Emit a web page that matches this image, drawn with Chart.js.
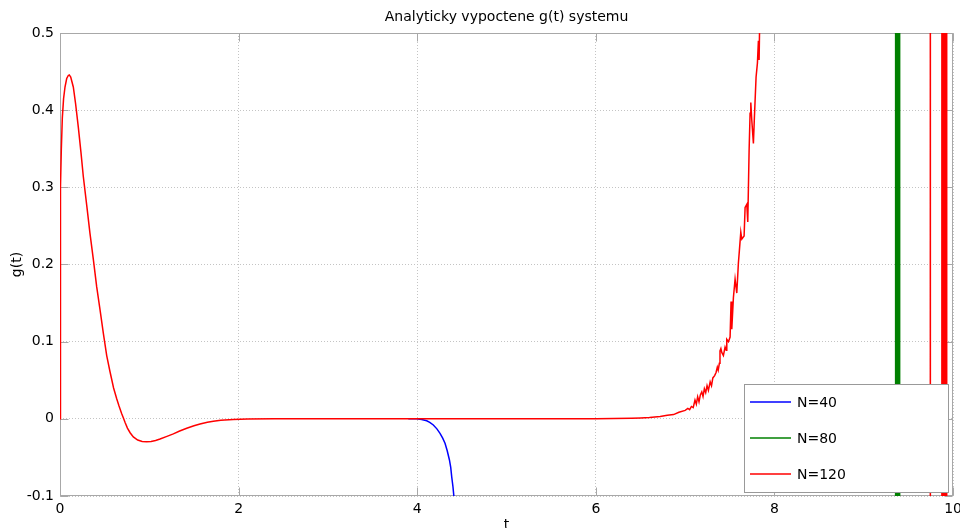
<!DOCTYPE html>
<html lang="cs">
<head>
<meta charset="UTF-8">
<title>Analyticky vypoctene g(t) systemu</title>
<script src="https://cdn.jsdelivr.net/npm/chart.js"></script>
<style>
  html, body { margin: 0; padding: 0; overflow: hidden; background: #fff; }
  #wrap { position: absolute; left: 0; top: 0; width: 967px; height: 540px; }
</style>
</head>
<body>
<div id="wrap"><canvas id="gChart"></canvas></div>
<script>
// spolecny zacatek odezvy (vsechna N davaji totez do t ~ 4)
const tCommon = [0, 0.002, 0.005, 0.009, 0.015, 0.026, 0.04, 0.056, 0.075, 0.093, 0.104, 0.12,
  0.149, 0.175, 0.205, 0.235, 0.261, 0.3, 0.336, 0.375, 0.411, 0.45, 0.485, 0.523, 0.56, 0.6,
  0.635, 0.66, 0.69, 0.71, 0.73, 0.755, 0.785, 0.821, 0.87, 0.92, 0.97, 1.02, 1.07, 1.12, 1.19,
  1.269, 1.34, 1.419, 1.5, 1.568, 1.65, 1.717, 1.8, 1.94, 2.1, 2.4, 3, 3.5, 4];
const gCommon = [0, 0.12, 0.23, 0.30, 0.35, 0.39, 0.415, 0.43, 0.441, 0.445, 0.4457, 0.443,
  0.43, 0.408, 0.378, 0.345, 0.314, 0.276, 0.24, 0.205, 0.171, 0.14, 0.111, 0.082, 0.061, 0.04,
  0.026, 0.017, 0.007, 0.001, -0.005, -0.012, -0.018, -0.0235, -0.0275, -0.0293, -0.0298, -0.0293, -0.028, -0.0262, -0.023,
  -0.0195, -0.0158, -0.0122, -0.009, -0.0066, -0.0045, -0.003, -0.0018, -0.0008, -0.0003, 0, 0, 0, 0];

// N=40 - pod N=120 az do t ~ 4, pak diverguje dolu
const tBlue = [3.9, 3.994, 4.05, 4.106, 4.14, 4.18, 4.22, 4.255, 4.285, 4.311, 4.335, 4.36, 4.375, 4.386, 4.4, 4.41, 4.43];
const gBlue = [0, 0, -0.0008, -0.0025, -0.0045, -0.008, -0.013, -0.0188, -0.025, -0.0317, -0.041, -0.053, -0.063, -0.075, -0.088, -0.1, -0.125];

// N=80 - numericky rozpad kolem t ~ 9.37
const tGreen = [9.3, 9.3555, 9.3565, 9.3635, 9.3645, 9.3715, 9.3725, 9.3795, 9.3805, 9.3875, 9.3885,
  9.3955, 9.3965, 9.4035, 9.4045, 9.45];
const gGreen = [-30, -30, 30, 30, -30, -30, 30, 30, -30, -30, 30, 30, -30, -30, 30, 30];

// N=120 - sum od t ~ 7, pak rozpad
const tRed = [5, 6, 6.2, 6.4, 6.5, 6.6, 6.72, 6.8, 6.87, 6.93, 7.0, 7.03, 7.05, 7.07, 7.09, 7.11,
  7.125, 7.14, 7.155, 7.17, 7.186, 7.2, 7.215, 7.23, 7.245, 7.26, 7.28, 7.295, 7.31, 7.33, 7.346,
  7.36, 7.37, 7.383, 7.39, 7.4, 7.41, 7.428, 7.447, 7.46, 7.466, 7.485, 7.503, 7.514, 7.522, 7.54,
  7.559, 7.578, 7.596, 7.607, 7.623, 7.634, 7.66, 7.671, 7.69, 7.701, 7.716, 7.727, 7.735, 7.746,
  7.764, 7.775, 7.794, 7.809, 7.82, 7.828, 7.84, 7.9, 8.5, 9.2, 9.7445, 9.7455,
  9.8735, 9.8745, 9.8815, 9.8825, 9.8895, 9.8905, 9.8975, 9.8985, 9.9055, 9.9065,
  9.9195, 9.9205, 9.9275, 9.9285, 10];
const gRed = [0, 0, 0.0003, 0.0008, 0.0012, 0.0018, 0.003, 0.0045, 0.0055, 0.0085, 0.011, 0.0135,
  0.012, 0.016, 0.0145, 0.0244, 0.019, 0.0287, 0.022, 0.031, 0.035, 0.029, 0.039, 0.034, 0.043,
  0.037, 0.048, 0.043, 0.053, 0.056, 0.06, 0.067, 0.063, 0.072, 0.088, 0.091, 0.086, 0.082, 0.093,
  0.089, 0.103, 0.1, 0.106, 0.152, 0.116, 0.157, 0.181, 0.163, 0.202, 0.218, 0.242, 0.233, 0.237,
  0.274, 0.278, 0.255, 0.348, 0.396, 0.41, 0.387, 0.357, 0.39, 0.443, 0.461, 0.49, 0.465, 0.56,
  0.9, 4, 12, 30, -30,
  -30, 30, 30, -30, -30, 30, 30, -30, -30, 30,
  30, -30, -30, 30, 30];

const xTicks = [0, 2, 4, 6, 8, 10];
const yTicks = [-0.1, 0, 0.1, 0.2, 0.3, 0.4, 0.5];

const seriesNames = ['N=40', 'N=80', 'N=120'];
const seriesColors = ['#0000ff', '#008000', '#ff0000'];

function toPoints(ts, gs) {
  return ts.map((t, i) => ({ x: t, y: gs[i] }));
}

const blueData = toPoints(tBlue, gBlue);
const greenData = toPoints(tGreen, gGreen);
const redData = toPoints(tCommon.concat(tRed), gCommon.concat(gRed));

Chart.defaults.font.family = '"DejaVu Sans", sans-serif';
Chart.defaults.font.size = 14;
Chart.defaults.color = '#000';

// ramecek grafu a kratke znacky dovnitr
const framePlugin = {
  id: 'frame',
  beforeDatasetsDraw(chart) {
    const { ctx, chartArea: a, scales } = chart;
    const L = Math.round(a.left) + 0.5, R = Math.round(a.right) - 0.5;
    const T = Math.round(a.top) + 0.5, B = Math.round(a.bottom) - 0.5;
    ctx.save();
    ctx.strokeStyle = '#a8a8a8';
    ctx.lineWidth = 1;
    ctx.beginPath();
    xTicks.forEach(v => {
      const px = Math.round(scales.x.getPixelForValue(v)) + 0.5;
      ctx.moveTo(px, B); ctx.lineTo(px, B - 8);
      ctx.moveTo(px, T); ctx.lineTo(px, T + 8);
    });
    yTicks.forEach(v => {
      const py = Math.round(scales.y.getPixelForValue(v)) + 0.5;
      ctx.moveTo(L, py); ctx.lineTo(L + 8, py);
      ctx.moveTo(R, py); ctx.lineTo(R - 8, py);
    });
    ctx.stroke();
    ctx.strokeRect(L, T, R - L, B - T);
    ctx.restore();
  },
  afterDraw(chart) {
    const { ctx, chartArea: a } = chart;
    ctx.save();
    // nadpis nad stredem grafu
    ctx.font = '14px "DejaVu Sans"';
    ctx.fillStyle = '#000';
    ctx.textAlign = 'center';
    ctx.textBaseline = 'middle';
    ctx.fillText('Analyticky vypoctene g(t) systemu', (a.left + a.right) / 2, 17);

    // legenda vpravo dole
    const bx = 744.5, by = 384.5, bw = 204, bh = 108;
    ctx.fillStyle = '#fff';
    ctx.fillRect(bx, by, bw, bh);
    ctx.strokeStyle = '#999';
    ctx.lineWidth = 1;
    ctx.strokeRect(bx, by, bw, bh);
    ctx.font = '14px "DejaVu Sans"';
    ctx.textAlign = 'left';
    chart.data.datasets.forEach((ds, i) => {
      const yy = 402 + i * 36;
      ctx.strokeStyle = ds.borderColor;
      ctx.lineWidth = 1.5;
      ctx.beginPath();
      ctx.moveTo(750, yy);
      ctx.lineTo(791, yy);
      ctx.stroke();
      ctx.fillStyle = '#000';
      ctx.fillText(ds.label, 797, yy + 1);
    });
    ctx.restore();
  }
};

const gridStyle = {
  color: '#c4c4c4',
  lineWidth: 1,
  drawTicks: false
};

new Chart(document.getElementById('gChart'), {
  type: 'line',
  data: {
    datasets: [
      { label: seriesNames[0], data: blueData, borderColor: seriesColors[0], order: 2 },
      { label: seriesNames[1], data: greenData, borderColor: seriesColors[1], order: 1 },
      { label: seriesNames[2], data: redData, borderColor: seriesColors[2], order: 0 }
    ]
  },
  options: {
    responsive: true,
    maintainAspectRatio: false,
    animation: false,
    layout: { padding: { top: 33, left: 0, right: 0, bottom: 0 } },
    elements: {
      point: { radius: 0 },
      line: { borderWidth: 1.5, tension: 0, fill: false }
    },
    plugins: {
      legend: { display: false },
      title: { display: false },
      tooltip: { enabled: false }
    },
    scales: {
      x: {
        type: 'linear',
        min: 0,
        max: 10,
        afterFit: s => { s.height = 44; },
        afterBuildTicks: s => { s.ticks = xTicks.map(v => ({ value: v })); },
        ticks: { padding: 5, maxRotation: 0 },
        grid: { ...gridStyle, borderDash: [1, 2] },
        border: { display: false, dash: [1, 2] },
        title: { display: true, text: 't', padding: { top: 0, bottom: 6 } }
      },
      y: {
        type: 'linear',
        min: -0.1,
        max: 0.5,
        afterFit: s => { s.width = 60; },
        afterBuildTicks: s => { s.ticks = yTicks.map(v => ({ value: v })); },
        ticks: { padding: 6 },
        grid: { ...gridStyle },
        border: { display: false, dash: [1, 2] },
        title: { display: true, text: 'g(t)', padding: { top: 9, bottom: 0 } }
      }
    }
  },
  plugins: [framePlugin]
});
</script>
</body>
</html>
